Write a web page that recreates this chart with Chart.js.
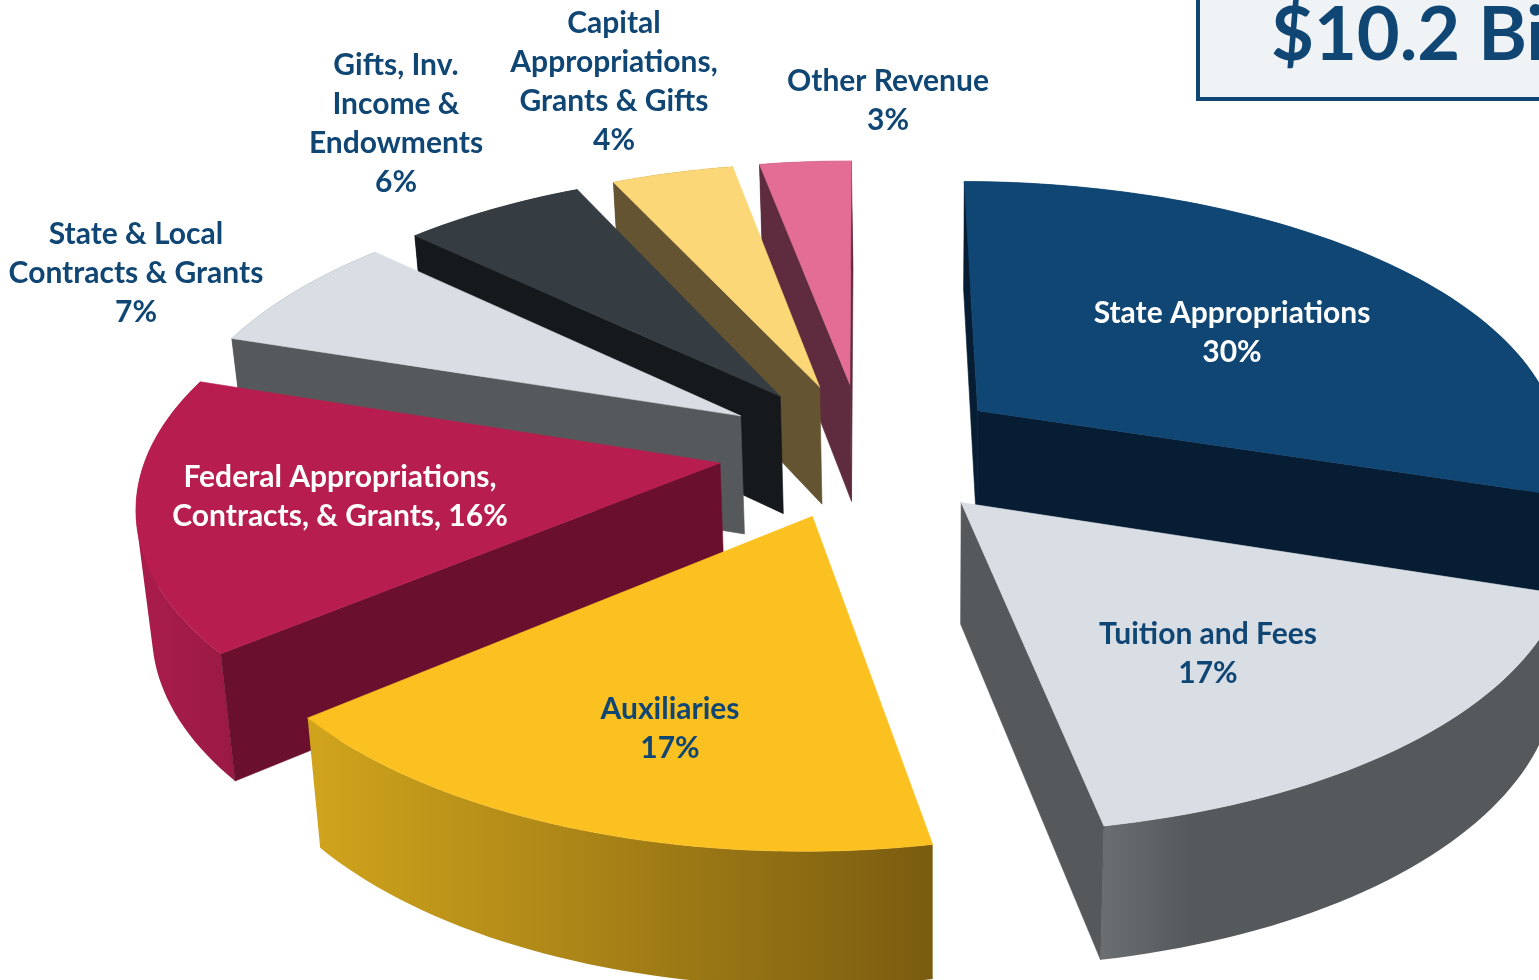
<!DOCTYPE html>
<html><head><meta charset="utf-8">
<style>html,body{margin:0;padding:0;background:#fff;overflow:hidden}canvas{display:block}</style>
<script src="https://cdn.jsdelivr.net/npm/chart.js@4"></script></head>
<body><canvas id="c" width="1539" height="980"></canvas>
<script>
const categories=["State Appropriations","Tuition and Fees","Auxiliaries","Federal Appropriations, Contracts, & Grants","State & Local Contracts & Grants","Gifts, Inv. Income & Endowments","Capital Appropriations, Grants & Gifts","Other Revenue"];
const shares=[30,17,17,16,7,6,4,3];
const topColors=["#104674","#d8dee4","#fbc120","#b71e4f","#d8dee4","#353c42","#fcd777","#e36d94"];
const wallColors=["#061d33","#56595c","#7a5c10","#6a0f2d","#56595c","#15191c","#655431","#5f2b3e"];
const rimStart=["#104674","#6c6f72","#cfa31c","#a81c4c","#56595c","#15191c","#655431","#5f2b3e"];
const rimEnd=["#0a2f50","#56595c","#7a5c10","#9a1a44","#56595c","#15191c","#655431","#5f2b3e"];
const rimRamp=[1,0.2,1,1,1,1,1,1];
const labelLines=[["State Appropriations","30%"],["Tuition and Fees","17%"],["Auxiliaries","17%"],["Federal Appropriations,","Contracts, & Grants, 16%"],["State & Local","Contracts & Grants","7%"],["Gifts, Inv.","Income &","Endowments","6%"],["Capital","Appropriations,","Grants & Gifts","4%"],["Other Revenue","3%"]];
const labelColors=["#ffffff","#104674","#104674","#ffffff","#104674","#104674","#104674","#104674"];
const labelAnchors=[[1232,313],[1208,634],[670,709],[340,477],[136,234],[396,65],[614,23],[888,81]];
const drawOrder=[7,6,5,4,0,3,1,2];
const view={cx:863,cy:450,rx:572,ry:270,k:0.135,stretch:0.03};
function project(u,v,lift){
  const w=1/(1-view.k*v);
  const us=u+view.stretch*Math.max(0,u-0.4);
  const x=view.cx+view.rx*us*w, y=view.cy+view.ry*v*w;
  if(!lift) return {x,y};
  return {x:933+(x-933)*0.98,y:y+117+(w-0.968)*77};
}
const pie3d={id:'pie3d',
  beforeDatasetDraw(chart){
    const ctx=chart.ctx, arcs=chart.getDatasetMeta(0).data;
    const geo=i=>{
      const a=arcs[i], R=a.outerRadius, mid=(a.startAngle+a.endAngle)/2, o=a.options.offset/R;
      const ox=o*Math.cos(mid), oy=o*Math.sin(mid);
      const pts=[], n=Math.max(6,Math.ceil((a.endAngle-a.startAngle)*40));
      for(let j=0;j<=n;j++){const t=a.startAngle+(a.endAngle-a.startAngle)*j/n;pts.push([ox+Math.cos(t),oy+Math.sin(t)]);}
      return {ox,oy,pts};
    };
    const trace=list=>{list.forEach((p,j)=>j?ctx.lineTo(p.x,p.y):ctx.moveTo(p.x,p.y));ctx.closePath();};
    const paint=fill=>{ctx.fillStyle=fill;ctx.strokeStyle=fill;ctx.lineWidth=0.6;ctx.fill();ctx.stroke();};
    const poly=(list,fill)=>{ctx.beginPath();trace(list);paint(fill);};
    const area=q=>q.reduce((s,p,j)=>{const n=q[(j+1)%q.length];return s+p.x*n.y-n.x*p.y;},0);
    drawOrder.forEach(i=>{
      const g=geo(i);
      const up=g.pts.map(p=>project(p[0],p[1],false)), down=g.pts.map(p=>project(p[0],p[1],true));
      const A=project(g.ox,g.oy,false), Al=project(g.ox,g.oy,true);
      const xs=down.map(p=>p.x), x0=Math.min(...xs), x1=Math.max(...xs);
      const grad=ctx.createLinearGradient(x0,0,x1,0);
      grad.addColorStop(0,rimStart[i]);grad.addColorStop(rimRamp[i],rimEnd[i]);
      ctx.beginPath();
      for(let j=0;j<up.length-1;j++){
        const q=[up[j],up[j+1],down[j+1],down[j]];
        trace(area(q)<0?q.reverse():q);
      }
      ctx.fillStyle=grad;ctx.fill();
      const M=up[Math.floor(up.length/2)];
      [[up[0],down[0]],[up[up.length-1],down[down.length-1]]].forEach(([P,Pl])=>{
        const ex=P.x-A.x, ey=P.y-A.y;
        const side=ex*(M.y-A.y)-ey*(M.x-A.x), drop=ex;
        if(side*drop<0) poly([A,P,Pl,Al],wallColors[i]);
      });
      poly([A].concat(up),topColors[i]);
    });
    ctx.fillStyle="#eff3f5";ctx.strokeStyle="#104674";ctx.lineWidth=4;
    ctx.beginPath();ctx.moveTo(1198,-4);ctx.lineTo(1198,99);ctx.lineTo(1545,99);ctx.lineTo(1545,-4);ctx.closePath();ctx.fill();ctx.stroke();
    ctx.textBaseline="middle";ctx.textAlign="left";ctx.fillStyle="#104674";
    ctx.font="bold 74px Lato";ctx.fillText("$10.2 Billion",1271,36);
    ctx.textAlign="center";ctx.font="bold 30px Lato";
    labelLines.forEach((lines,i)=>{ctx.fillStyle=labelColors[i];lines.forEach((s,j)=>ctx.fillText(s,labelAnchors[i][0],labelAnchors[i][1]+j*39));});
    return false;
  }};
new Chart(document.getElementById('c'),{type:'pie',plugins:[pie3d],
  data:{labels:categories,datasets:[{data:shares,backgroundColor:topColors,borderWidth:0,offset:110}]},
  options:{responsive:false,animation:false,events:[],layout:{padding:0},plugins:{legend:{display:false},tooltip:{enabled:false}}}});
</script></body></html>
